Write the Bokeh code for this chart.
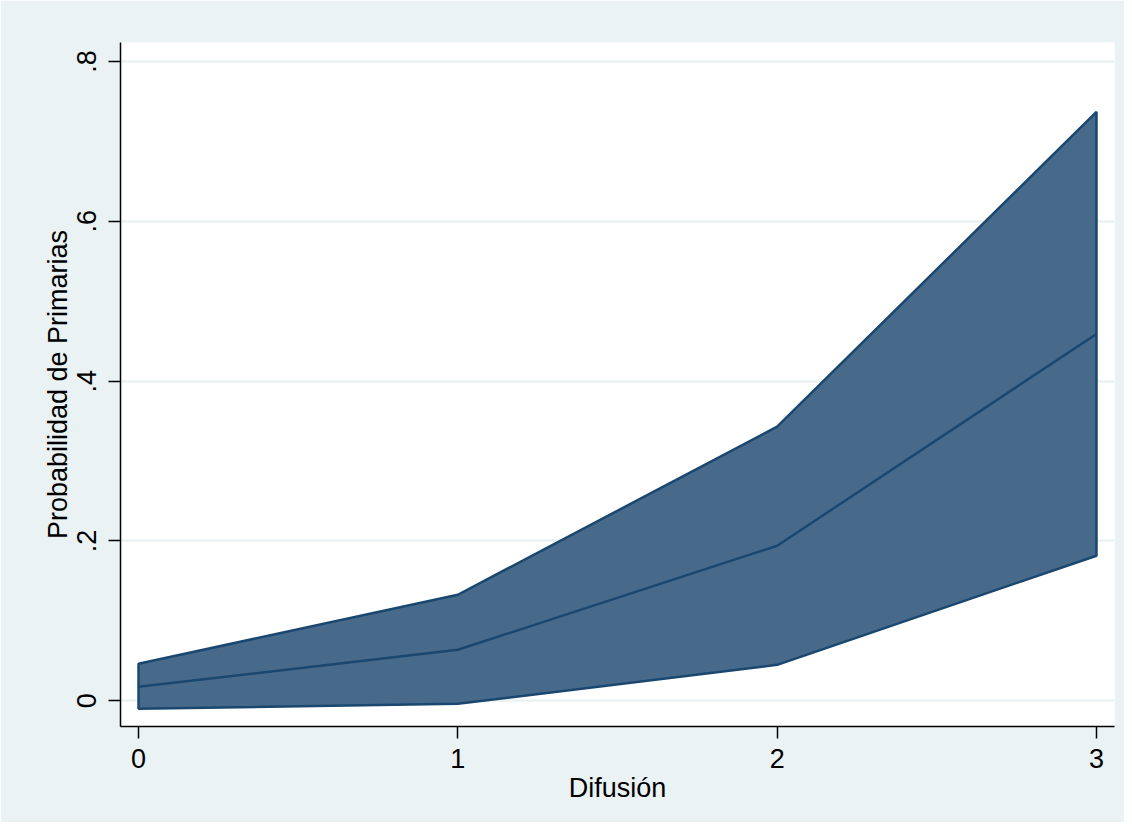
from bokeh.plotting import figure
from bokeh.models import FixedTicker
from bokeh.embed import file_html
from bokeh.resources import INLINE

difusion = [0, 1, 2, 3]
prob_upper = [0.0463, 0.1327, 0.343, 0.737]
prob_mid = [0.0175, 0.0638, 0.194, 0.459]
prob_lower = [-0.010, -0.0038, 0.045, 0.1815]
y_ticks = [0, 0.2, 0.4, 0.6, 0.8]
y_tick_labels = ["0", ".2", ".4", ".6", ".8"]
x_ticks = [0, 1, 2, 3]

BG = "#eaf2f3"
NAVY = "#1a476f"
FILL = "#476a8b"
FONT = "Liberation Sans"

p = figure(width=1124, height=822, output_backend="svg", toolbar_location=None,
           x_range=(-0.0564, 3.0564), y_range=(-0.0322, 0.8238),
           min_border_left=120, min_border_top=42, min_border_right=10, min_border_bottom=96)
p.background_fill_color = "white"
p.border_fill_color = BG
p.outline_line_color = None

xs = difusion + difusion[::-1]
ys = prob_upper + prob_lower[::-1]
p.patch(xs, ys, fill_color=FILL, line_color=NAVY, line_width=2.5)
p.line(difusion, prob_mid, line_color=NAVY, line_width=2.5)

p.xgrid.grid_line_color = None
p.ygrid.grid_line_color = BG
p.ygrid.grid_line_width = 2.5
p.ygrid.ticker = FixedTicker(ticks=y_ticks)

p.yaxis.ticker = FixedTicker(ticks=y_ticks)
p.yaxis.major_label_overrides = {t: l for t, l in zip(y_ticks, y_tick_labels)}
p.yaxis.major_label_orientation = "vertical"
p.xaxis.ticker = FixedTicker(ticks=x_ticks)

for ax in (p.xaxis, p.yaxis):
    ax.axis_line_color = "black"
    ax.axis_line_width = 1.5
    ax.major_tick_line_color = "black"
    ax.major_tick_line_width = 1.5
    ax.major_tick_out = 12
    ax.major_tick_in = 0
    ax.minor_tick_line_color = None
    ax.major_label_text_font = FONT
    ax.major_label_text_font_size = "27px"
    ax.major_label_text_color = "black"
    ax.axis_label_text_font = FONT
    ax.axis_label_text_font_size = "27px"
    ax.axis_label_text_font_style = "normal"
    ax.axis_label_text_color = "black"

p.xaxis.axis_label = "Difusión"
p.yaxis.axis_label = "Probabilidad de Primarias"
p.xaxis.major_label_standoff = 10
p.xaxis.axis_label_standoff = 2
p.yaxis.major_label_standoff = 12
p.yaxis.axis_label_standoff = 2

open("out.html", "w").write(file_html(p, INLINE))
